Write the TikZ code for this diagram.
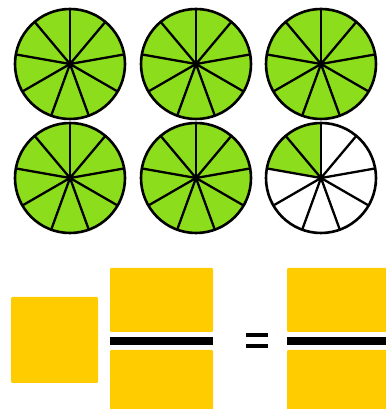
\documentclass[tikz,border=0pt]{standalone}
\usepackage{tikz}
\definecolor{limegreen}{RGB}{140,222,28}
\definecolor{gold}{RGB}{255,204,0}

\begin{document}
\begin{tikzpicture}[
  x=1pt, y=1pt,
  slice/.style={fill=limegreen},
  spoke/.style={line width=2.3pt, line cap=round},
  rim/.style={draw=black, line width=2.6pt},
  card/.style={fill=gold, rounded corners=1.2pt},
  fracbar/.style={fill=black}
]
\useasboundingbox (0,0) rectangle (385,409);

% six circles in ninths, the last with two ninths shaded
\foreach \cx/\cy/\k in {70/345/9, 196/345/9, 321/345/9,
                        70/231/9, 196/231/9, 321/231/2} {
  \fill[white] (\cx,\cy) circle[radius=55];
  \fill[slice] (\cx,\cy) -- ++(90:55)
    arc[start angle=90, delta angle=40*\k, radius=55] -- cycle;
  \foreach \a in {0,...,8}
    \draw[spoke] (\cx,\cy) -- ++(90+40*\a:55);
  \draw[rim] (\cx,\cy) circle[radius=55];
}

% whole number
\fill[card] (11,26) rectangle (98,112);

% proper fraction
\fill[card] (110,77) rectangle (213,141);
\fill[fracbar] (110,64) rectangle (213,72);
\fill[card] (110,-4) rectangle (213,59);

% equals sign
\fill[fracbar] (246,72) rectangle (268,75.5);
\fill[fracbar] (246,61) rectangle (268,64.5);

% improper fraction
\fill[card] (287,77) rectangle (390,141);
\fill[fracbar] (287,64) rectangle (390,72);
\fill[card] (287,-4) rectangle (390,59);

\end{tikzpicture}
\end{document}
